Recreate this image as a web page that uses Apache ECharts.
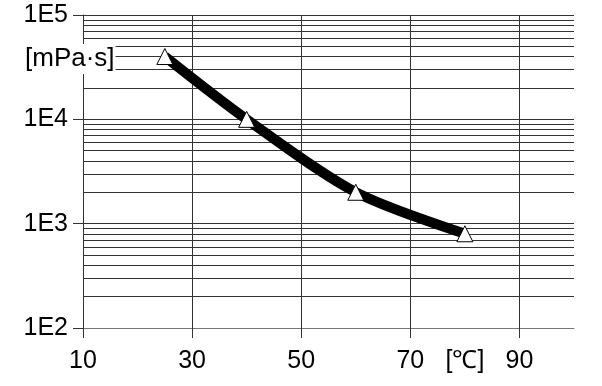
<!DOCTYPE html>
<html>
<head>
<meta charset="utf-8">
<script src="https://cdn.jsdelivr.net/npm/echarts@6/dist/echarts.min.js"></script>
<style>
html,body{margin:0;padding:0;background:#fff;}
#chart{width:602px;height:386px;}
</style>
</head>
<body>
<div id="chart"></div>
<script>
// Data
var temperatures = [25, 40, 60, 80];
var viscosities = [40000, 10000, 2000, 800];
// Axis labels
var xLabelValues = [10, 30, 50, 70, 80, 90];
var xLabelTexts = ['10', '30', '50', '70', '[\u2103]', '90'];
var xTickValues = [10, 30, 50, 70, 90];
var yTickValues = [100, 1000, 10000, 100000];
var yTickLabels = ['1E2', '1E3', '1E4', '1E5'];
var yUnit = '[mPa\u00b7s]';
// Minor log gridlines
var minorGrid = [200, 300, 400, 500, 600, 700, 800, 900,
                 2000, 3000, 4000, 5000, 6000, 7000, 8000, 9000,
                 20000, 30000, 40000, 50000, 60000, 70000, 80000, 90000];

var gridColor = '#333';
var font = 'Liberation Sans, Arial, sans-serif';

var chart = echarts.init(document.getElementById('chart'), null, {renderer: 'canvas'});
chart.setOption({
  animation: false,
  backgroundColor: '#fff',
  grid: {left: 83, right: 28, top: 15, bottom: 58, containLabel: false},
  xAxis: {
    type: 'value', min: 10, max: 100, interval: 10,
    axisLine: {show: true, lineStyle: {color: '#777', width: 1}},
    axisTick: {show: true, length: 10, customValues: xTickValues,
               lineStyle: {color: gridColor, width: 1}},
    axisLabel: {
      customValues: xLabelValues,
      margin: 21, color: '#000', fontSize: 25, fontFamily: font,
      formatter: function (v) {
        var i = xLabelValues.indexOf(v);
        return i >= 0 ? xLabelTexts[i] : '';
      }
    },
    splitLine: {show: true, lineStyle: {color: gridColor, width: 1}}
  },
  yAxis: {
    type: 'log', logBase: 10, min: 100, max: 100000,
    axisLine: {show: true, lineStyle: {color: gridColor, width: 1}},
    axisTick: {show: true, length: 10, lineStyle: {color: gridColor, width: 1}},
    axisLabel: {
      margin: 15, color: '#000', fontSize: 25, fontFamily: font,
      padding: [4, 0, 0, 0],
      formatter: function (v) {
        var i = yTickValues.indexOf(Math.round(v));
        return i >= 0 ? yTickLabels[i] : '';
      }
    },
    splitLine: {show: true, showMinLine: false, lineStyle: {color: gridColor, width: 1}}
  },
  graphic: [{
    type: 'text', left: 25, top: 44, z: 100,
    style: {text: yUnit, fontSize: 26, fontFamily: font, fill: '#000',
            backgroundColor: '#fff', padding: [2, 1, 2, 0]}
  }],
  series: [{
    type: 'line',
    data: temperatures.map(function (t, i) { return [t, viscosities[i]]; }),
    smooth: 0.3,
    lineStyle: {color: '#000', width: 10},
    symbol: 'triangle', symbolSize: 16,
    itemStyle: {color: '#fff', borderColor: '#000', borderWidth: 1},
    z: 10,
    markLine: {
      silent: true, symbol: 'none', label: {show: false},
      lineStyle: {color: gridColor, width: 1, type: 'solid'},
      z: 1,
      data: minorGrid.map(function (v) { return {yAxis: v}; })
    }
  }]
});
</script>
</body>
</html>
